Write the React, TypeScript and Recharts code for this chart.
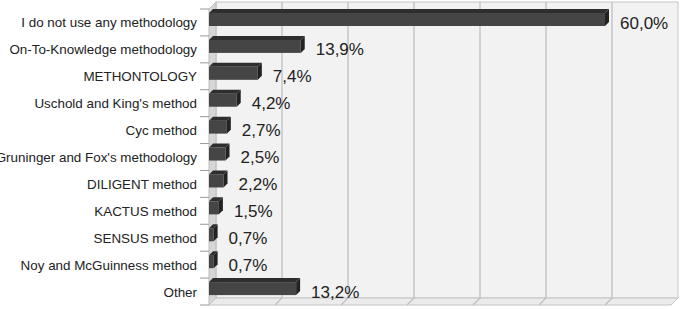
import React from 'react';
import { BarChart, Bar, XAxis, YAxis, ReferenceArea, ReferenceLine, LabelList } from 'recharts';

const categories = [
  'I do not use any methodology',
  'On-To-Knowledge methodology',
  'METHONTOLOGY',
  "Uschold and King's method",
  'Cyc method',
  "Gruninger and Fox's methodology",
  'DILIGENT method',
  'KACTUS method',
  'SENSUS method',
  'Noy and McGuinness method',
  'Other',
];
const percentages = [60.0, 13.9, 7.4, 4.2, 2.7, 2.5, 2.2, 1.5, 0.7, 0.7, 13.2];
const xTicks = [0, 10, 20, 30, 40, 50, 60, 70];

const data = categories.map((name, i) => ({ name, value: percentages[i] }));

const W = 681;
const H = 309;
const MARGIN = { top: 9, right: 10, bottom: 4, left: 0 };
const Y_AXIS_W = 209;
const DEPTH = 7;
const BAR_DEPTH = 4;
const FONT = '"Liberation Sans", Arial, Helvetica, sans-serif';
const band = (H - MARGIN.top - MARGIN.bottom) / categories.length;

const fmt = (v: number) => v.toFixed(1).replace('.', ',') + '%';

const WallShape = (props: any) => {
  const { x, y, width, height } = props;
  const d = DEPTH;
  return (
    <g>
      <rect x={x + d} y={y - d} width={width} height={height} fill="#f2f2f2" stroke="#c4c4c4" strokeWidth={1} />
      <polygon
        points={`${x},${y} ${x + d},${y - d} ${x + d},${y + height - d} ${x},${y + height}`}
        fill="#d6d6d6"
        stroke="#bdbdbd"
        strokeWidth={1}
      />
      <polygon
        points={`${x},${y + height} ${x + d},${y + height - d} ${x + width + d},${y + height - d} ${x + width},${y + height}`}
        fill="#ebebeb"
        stroke="#c4c4c4"
        strokeWidth={1}
      />
    </g>
  );
};

const GridShape = (props: any) => {
  const { x1, y1, y2 } = props;
  const top = Math.min(y1, y2);
  const bottom = Math.max(y1, y2);
  const d = DEPTH;
  return (
    <polyline
      points={`${x1 + d},${top - d} ${x1 + d},${bottom - d} ${x1},${bottom}`}
      fill="none"
      stroke="#bfbfbf"
      strokeWidth={1.3}
    />
  );
};

const Bar3D = (props: any) => {
  const { x, y, width, height } = props;
  if (width == null || width <= 0) return null;
  const d = BAR_DEPTH;
  const fy = y - 3;
  return (
    <g>
      <rect x={x} y={fy} width={width} height={height} fill="#454545" />
      <polygon
        points={`${x},${fy} ${x + d},${fy - d} ${x + width + d},${fy - d} ${x + width},${fy}`}
        fill="#2e2e2e"
      />
      <polygon
        points={`${x + width},${fy} ${x + width + d},${fy - d} ${x + width + d},${fy + height - d} ${x + width},${fy + height}`}
        fill="#222222"
      />
    </g>
  );
};

const CategoryTick = (props: any) => {
  const { x, y, payload, index } = props;
  const last = index === categories.length - 1;
  return (
    <g>
      <line x1={x + 3} x2={x + 12} y1={y - band / 2} y2={y - band / 2} stroke="#9a9a9a" strokeWidth={1} />
      {last && (
        <line x1={x + 3} x2={x + 12} y1={y + band / 2} y2={y + band / 2} stroke="#9a9a9a" strokeWidth={1} />
      )}
      <text x={x} y={y} dy={5} textAnchor="end" fontSize={13.4} fontFamily={FONT} fill="#222">
        {payload.value}
      </text>
    </g>
  );
};

export default function App() {
  return (
    <div style={{ position: 'absolute', left: 0, top: 0, background: '#fff', width: W, height: H }}>
      <BarChart width={W} height={H} data={data} layout="vertical" margin={MARGIN} barCategoryGap={0}>
        <XAxis type="number" domain={[0, 70]} ticks={xTicks} hide />
        <YAxis
          type="category"
          dataKey="name"
          width={Y_AXIS_W}
          axisLine={false}
          tickLine={false}
          tickSize={6}
          tickMargin={6}
          interval={0}
          tick={<CategoryTick />}
        />
        <ReferenceArea x1={0} x2={70} shape={<WallShape />} zIndex={-200} ifOverflow="visible" fillOpacity={1} />
        {xTicks.slice(1, -1).map((t) => (
          <ReferenceLine key={t} x={t} shape={<GridShape />} zIndex={-150} ifOverflow="visible" />
        ))}
        <Bar dataKey="value" barSize={13} shape={<Bar3D />} isAnimationActive={false}>
          <LabelList
            dataKey="value"
            position="right"
            offset={15}
            formatter={(v: any) => fmt(Number(v))}
            style={{ fontSize: 17, fontFamily: FONT, fill: '#222' }}
          />
        </Bar>
      </BarChart>
    </div>
  );
}
